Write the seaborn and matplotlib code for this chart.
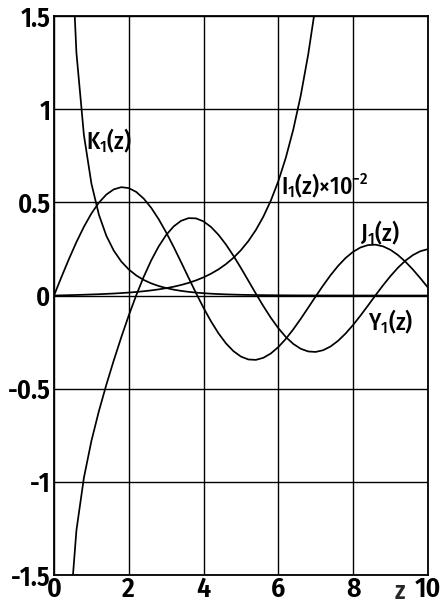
import numpy as np
import pandas as pd
import matplotlib
matplotlib.use("Agg")
import matplotlib.pyplot as plt
import seaborn as sns

# Tabulated values of the Bessel functions (step 0.2)
z = [0.0, 0.2, 0.4, 0.6, 0.8, 1.0, 1.2, 1.4, 1.6, 1.8, 2.0, 2.2, 2.4, 2.6, 2.8,
     3.0, 3.2, 3.4, 3.6, 3.8, 4.0, 4.2, 4.4, 4.6, 4.8, 5.0, 5.2, 5.4, 5.6, 5.8,
     6.0, 6.2, 6.4, 6.6, 6.8, 7.0, 7.2, 7.4, 7.6, 7.8, 8.0, 8.2, 8.4, 8.6, 8.8,
     9.0, 9.2, 9.4, 9.6, 9.8, 10.0]
J1 = [0.0000, 0.0995, 0.1960, 0.2867, 0.3688, 0.4401, 0.4983, 0.5419, 0.5699, 0.5815,
      0.5767, 0.5560, 0.5202, 0.4708, 0.4097, 0.3391, 0.2613, 0.1792, 0.0955, 0.0128,
      -0.0660, -0.1386, -0.2028, -0.2566, -0.2985, -0.3276, -0.3432, -0.3453, -0.3343, -0.3110,
      -0.2767, -0.2329, -0.1816, -0.1250, -0.0652, -0.0047, 0.0543, 0.1096, 0.1592, 0.2014,
      0.2346, 0.2580, 0.2708, 0.2728, 0.2641, 0.2453, 0.2174, 0.1816, 0.1395, 0.0928, 0.0435]
Y1 = [np.nan, -3.3238, -1.7809, -1.2604, -0.9781, -0.7812, -0.6211, -0.4791, -0.3476, -0.2237,
      -0.1070, 0.0015, 0.1005, 0.1884, 0.2635, 0.3247, 0.3707, 0.4010, 0.4154, 0.4141,
      0.3979, 0.3680, 0.3260, 0.2737, 0.2136, 0.1479, 0.0792, 0.0101, -0.0568, -0.1192,
      -0.1750, -0.2223, -0.2596, -0.2857, -0.3002, -0.3027, -0.2934, -0.2731, -0.2428, -0.2039,
      -0.1581, -0.1072, -0.0535, 0.0011, 0.0544, 0.1043, 0.1491, 0.1871, 0.2171, 0.2379, 0.2490]
I1_scaled = [0.0000, 0.0010, 0.0020, 0.0031, 0.0043, 0.0057, 0.0071, 0.0089, 0.0108, 0.0132,
             0.0159, 0.0191, 0.0230, 0.0276, 0.0330, 0.0395, 0.0473, 0.0567, 0.0679, 0.0814,
             0.0976, 0.1171, 0.1405, 0.1686, 0.2025, 0.2434, 0.2925, 0.3518, 0.4233, 0.5095,
             0.6134, 0.7389, 0.8903, 1.0730, 1.2938, 1.5604, 1.8825, 2.2717, 2.7422, 3.3110,
             3.9987, 4.8305, 5.8366, 7.0538, 8.5266, 10.3091, 12.4668, 15.0788, 18.2414, 22.0713, 26.7099]
K1 = [np.nan, 4.7760, 2.1844, 1.3028, 0.8618, 0.6019, 0.4346, 0.3208, 0.2406, 0.1826,
      0.1399, 0.1079, 0.0837, 0.0653, 0.0511, 0.0402, 0.0316, 0.0250, 0.0198, 0.0157,
      0.0125, 0.0099, 0.0079, 0.0063, 0.0051, 0.0040, 0.0032, 0.0026, 0.0021, 0.0017,
      0.0013, 0.0011, 0.0009, 0.0007, 0.0006, 0.0005, 0.0004, 0.0003, 0.0002, 0.0002,
      0.0002, 0.0001, 0.0001, 0.0001, 0.0001, 0.0001, 0.0000, 0.0000, 0.0000, 0.0000, 0.0000]

x_ticks = [0, 2, 4, 6, 8, 10]
x_tick_labels = ["0", "2", "4", "6", "8", "10"]
y_ticks = [-1.5, -1, -0.5, 0, 0.5, 1, 1.5]
y_tick_labels = ["-1.5", "-1", "-0.5", "0", "0.5", "1", "1.5"]

df = pd.DataFrame({"z": z, "J1": J1, "Y1": Y1, "I1": I1_scaled, "K1": K1})

sns.set_theme(style="white")
FONT = ["Fira Sans Condensed", "Barlow Condensed", "PT Sans Narrow", "Pragati Narrow",
        "Roboto Condensed", "Liberation Sans", "DejaVu Sans"]
plt.rcParams["font.family"] = FONT
plt.rcParams["mathtext.default"] = "regular"

fig = plt.figure(figsize=(4.44, 6.03), dpi=100)
ax = fig.add_axes([0.1216, 0.0464, 0.842, 0.927])

for col in ["J1", "Y1", "I1", "K1"]:
    sub = df[["z", col]].dropna()
    sns.lineplot(data=sub, x="z", y=col, ax=ax, color="black", linewidth=1.25,
                 estimator=None, sort=False)

ax.set_xlim(0, 10)
ax.set_ylim(-1.5, 1.5)
ax.set_xticks(x_ticks)
ax.set_xticklabels(x_tick_labels)
ax.set_yticks(y_ticks)
ax.set_yticklabels(y_tick_labels)
ax.set_xlabel("")
ax.set_ylabel("")
ax.grid(True, color="black", linewidth=1.0)
for s in ax.spines.values():
    s.set_color("black")
    s.set_linewidth(1.3)
ax.tick_params(axis="both", length=0, colors="black")
ax.tick_params(axis="y", pad=2.5, labelsize=19)
ax.tick_params(axis="x", pad=0.5, labelsize=20)
for lab in ax.get_xticklabels() + ax.get_yticklabels():
    lab.set_fontweight("semibold")
    lab.set_family(FONT)

ax.text(9.25, -0.043, "z", transform=ax.get_xaxis_transform(), ha="center", va="baseline",
        fontsize=18, fontweight="semibold", family=FONT)

lab_kw = dict(fontsize=17, color="black", family=FONT, fontweight="medium")
ax.text(0.86, 0.83, "K$_1$(z)", ha="left", va="center", **lab_kw)
ax.text(6.08, 0.59, "I$_1$(z)×10$^{-2}$", ha="left", va="center", **lab_kw)
ax.text(8.18, 0.34, "J$_1$(z)", ha="left", va="center", **lab_kw)
ax.text(8.40, -0.14, "Y$_1$(z)", ha="left", va="center", **lab_kw)

fig.savefig("out.png", dpi=100)
